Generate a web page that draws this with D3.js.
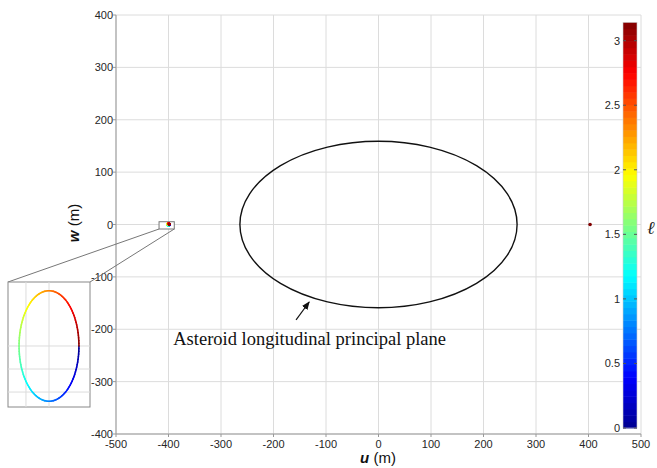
<!DOCTYPE html>
<html>
<head>
<meta charset="utf-8">
<script src="https://d3js.org/d3.v7.min.js"></script>
<style>
  body { margin: 0; background: #fff; overflow: hidden; }
  .tick-label { font-family: Arial, "Liberation Sans", sans-serif; font-size: 11px; fill: #262626; }
  .grid { stroke: #dcdcdc; stroke-width: 1; }
  .axis-title { font-family: Arial, "Liberation Sans", sans-serif; font-size: 15px; fill: #111; }
  .note { font-family: "Times New Roman", "Liberation Serif", serif; font-size: 18.5px; fill: #111; }
</style>
</head>
<body>
<div id="chart"></div>
<script>
// ---- data ----
var uTicks = [-500, -400, -300, -200, -100, 0, 100, 200, 300, 400, 500];
var wTicks = [-400, -300, -200, -100, 0, 100, 200, 300, 400];
var lTicks = [0, 0.5, 1, 1.5, 2, 2.5, 3];
var lMax = Math.PI;

// asteroid longitudinal principal plane (semi-axes, m)
var planeCenter = [0, 0];
var planeSemiAxes = [264, 159];

// small orbit near u = -400 and marker near u = 400
var orbitCenter = [-400, 0];
var orbitSemiAxes = [1.3, 2.4];
var rightPoint = [403, 0];

// zoom box in main axes [u0, u1, w0, w1]
var zoomBox = [-418, -389, -8.6, 5.3];

// inset axes domain and grid
var insetU = [-401.78, -398.22];
var insetW = [-2.65, 2.78];
var insetUTicks = [-401, -400];
var insetWTicks = [-2, -1, 0];

// jet colormap stops
var jetStops = [0, 0.125, 0.375, 0.625, 0.875, 1];
var jetColors = ["#00008f", "#0000ff", "#00ffff", "#ffff00", "#ff0000", "#800000"];
var colorSteps = 64;

// annotation
var noteText = "Asteroid longitudinal principal plane";
var notePos = [-391, -231];
var arrowFrom = [-157, -182];
var arrowTo = [-132, -148];

// ---- chart ----
var width = 657, height = 468;
var svg = d3.select("#chart").append("svg")
  .attr("width", width).attr("height", height);

var x = d3.scaleLinear().domain([-500, 500]).range([116, 641]);
var y = d3.scaleLinear().domain([-400, 400]).range([434, 15]);

var jet = d3.scaleLinear()
  .domain(jetStops.map(function(s) { return s * lMax; }))
  .range(jetColors)
  .clamp(true);

// grid
svg.append("g").selectAll("line").data(uTicks).enter().append("line")
  .attr("class", "grid")
  .attr("x1", function(d) { return x(d); }).attr("x2", function(d) { return x(d); })
  .attr("y1", y(400)).attr("y2", y(-400));
svg.append("g").selectAll("line").data(wTicks).enter().append("line")
  .attr("class", "grid")
  .attr("x1", x(-500)).attr("x2", x(500))
  .attr("y1", function(d) { return y(d); }).attr("y2", function(d) { return y(d); });

// frame
svg.append("line").attr("x1", x(-500)).attr("x2", x(-500)).attr("y1", y(400)).attr("y2", y(-400))
  .attr("stroke", "#999");
svg.append("line").attr("x1", x(-500)).attr("x2", x(500)).attr("y1", y(-400)).attr("y2", y(-400))
  .attr("stroke", "#999");

// tick labels
svg.append("g").selectAll("text").data(uTicks).enter().append("text")
  .attr("class", "tick-label")
  .attr("x", function(d) { return x(d); })
  .attr("y", 448)
  .attr("text-anchor", "middle")
  .text(function(d) { return d; });
svg.append("g").selectAll("text").data(wTicks).enter().append("text")
  .attr("class", "tick-label")
  .attr("x", 113)
  .attr("y", function(d) { return y(d) + 4; })
  .attr("text-anchor", "end")
  .text(function(d) { return d; });

// small tick marks
svg.append("g").selectAll("line").data(wTicks).enter().append("line")
  .attr("x1", x(-500) - 3).attr("x2", x(-500))
  .attr("y1", function(d) { return y(d); }).attr("y2", function(d) { return y(d); })
  .attr("stroke", "#999");
svg.append("g").selectAll("line").data(uTicks).enter().append("line")
  .attr("x1", function(d) { return x(d); }).attr("x2", function(d) { return x(d); })
  .attr("y1", y(-400)).attr("y2", y(-400) + 3)
  .attr("stroke", "#999");

// axis titles
var ut = svg.append("text").attr("class", "axis-title")
  .attr("x", 378).attr("y", 463).attr("text-anchor", "middle");
ut.append("tspan").attr("font-weight", "bold").attr("font-style", "italic").text("u");
ut.append("tspan").text(" (m)");

var wt = svg.append("text").attr("class", "axis-title")
  .attr("transform", "translate(79,223) rotate(-90)")
  .attr("text-anchor", "middle");
wt.append("tspan").attr("font-weight", "bold").attr("font-style", "italic").text("w");
wt.append("tspan").text(" (m)");

// principal plane ellipse
svg.append("ellipse")
  .attr("cx", x(planeCenter[0])).attr("cy", y(planeCenter[1]))
  .attr("rx", x(planeSemiAxes[0]) - x(0))
  .attr("ry", y(0) - y(planeSemiAxes[1]))
  .attr("fill", "none").attr("stroke", "#111").attr("stroke-width", 1.4);

// annotation arrow + text
svg.append("defs").append("marker")
  .attr("id", "arrowhead").attr("viewBox", "0 0 10 10")
  .attr("refX", 9).attr("refY", 5)
  .attr("markerWidth", 7).attr("markerHeight", 7)
  .attr("orient", "auto")
  .append("path").attr("d", "M0,1 L10,5 L0,9 Z").attr("fill", "#111");
svg.append("line")
  .attr("x1", x(arrowFrom[0])).attr("y1", y(arrowFrom[1]))
  .attr("x2", x(arrowTo[0])).attr("y2", y(arrowTo[1]))
  .attr("stroke", "#111").attr("stroke-width", 1.2)
  .attr("marker-end", "url(#arrowhead)");
svg.append("text").attr("class", "note")
  .attr("x", x(notePos[0])).attr("y", y(notePos[1]))
  .text(noteText);

// orbit samples (ell in [0, pi])
var lSamples = d3.range(0, colorSteps * 2).map(function(i) { return i * lMax / (colorSteps * 2); });

function orbitSegments(g, sx, sy, sw) {
  lSamples.forEach(function(l, i) {
    var l2 = i + 1 < lSamples.length ? lSamples[i + 1] : lMax;
    var p = function(v) {
      return [sx(orbitCenter[0] + orbitSemiAxes[0] * Math.cos(2 * v)),
              sy(orbitCenter[1] - orbitSemiAxes[1] * Math.sin(2 * v))];
    };
    var a = p(l), b = p(l2);
    g.append("line")
      .attr("x1", a[0]).attr("y1", a[1]).attr("x2", b[0]).attr("y2", b[1])
      .attr("stroke", jet(l)).attr("stroke-width", sw).attr("stroke-linecap", "round");
  });
}

// zoom box in main axes
var zx0 = x(zoomBox[0]), zx1 = x(zoomBox[1]), zy0 = y(zoomBox[3]), zy1 = y(zoomBox[2]);

// inset axes
var ix = d3.scaleLinear().domain(insetU).range([8, 90]);
var iy = d3.scaleLinear().domain(insetW).range([407, 282]);

// connector lines
svg.append("line").attr("x1", zx0).attr("y1", zy1).attr("x2", ix.range()[0]).attr("y2", iy.range()[1])
  .attr("stroke", "#777");
svg.append("line").attr("x1", zx1).attr("y1", zy1).attr("x2", ix.range()[1]).attr("y2", iy.range()[1])
  .attr("stroke", "#777");

svg.append("rect")
  .attr("x", zx0).attr("y", zy0).attr("width", zx1 - zx0).attr("height", zy1 - zy0)
  .attr("fill", "#fff").attr("stroke", "#777");

orbitSegments(svg.append("g"), x, y, 2.6);

svg.append("circle")
  .attr("cx", x(rightPoint[0])).attr("cy", y(rightPoint[1])).attr("r", 1.8)
  .attr("fill", jet(lMax));

var inset = svg.append("g");
inset.append("rect")
  .attr("x", 8).attr("y", 282).attr("width", 82).attr("height", 125)
  .attr("fill", "#fff").attr("stroke", "#888");
inset.selectAll(".ig").data(insetUTicks).enter().append("line")
  .attr("class", "grid")
  .attr("x1", function(d) { return ix(d); }).attr("x2", function(d) { return ix(d); })
  .attr("y1", 282).attr("y2", 407);
inset.selectAll(".ih").data(insetWTicks).enter().append("line")
  .attr("class", "grid")
  .attr("x1", 8).attr("x2", 90)
  .attr("y1", function(d) { return iy(d); }).attr("y2", function(d) { return iy(d); });
orbitSegments(inset.append("g"), ix, iy, 1.6);

// colorbar
var cy = d3.scaleLinear().domain([0, lMax]).range([428, 22.4]);
var cbX = 623, cbW = 14;
var bands = d3.range(colorSteps).map(function(i) { return i * lMax / colorSteps; });
svg.append("g").selectAll("rect").data(bands).enter().append("rect")
  .attr("x", cbX).attr("width", cbW)
  .attr("y", function(d) { return cy(d + lMax / colorSteps); })
  .attr("height", function(d) { return cy(d) - cy(d + lMax / colorSteps) + 0.5; })
  .attr("fill", function(d) { return jet(d + lMax / colorSteps / 2); });
svg.append("rect").attr("x", cbX).attr("y", cy(lMax)).attr("width", cbW).attr("height", cy(0) - cy(lMax))
  .attr("fill", "none").attr("stroke", "#ccc").attr("stroke-width", 0.6);
svg.append("g").selectAll("text").data(lTicks).enter().append("text")
  .attr("class", "tick-label")
  .attr("x", 620).attr("y", function(d) { return cy(d) + 4; })
  .attr("text-anchor", "end")
  .text(function(d) { return d; });
var ct = svg.append("g");
ct.selectAll(".l").data(lTicks).enter().append("line")
  .attr("x1", cbX).attr("x2", cbX + 3)
  .attr("y1", function(d) { return cy(d); }).attr("y2", function(d) { return cy(d); })
  .attr("stroke", "#555");
ct.selectAll(".r").data(lTicks).enter().append("line")
  .attr("x1", cbX + cbW - 3).attr("x2", cbX + cbW)
  .attr("y1", function(d) { return cy(d); }).attr("y2", function(d) { return cy(d); })
  .attr("stroke", "#555");
svg.append("text")
  .attr("x", 647).attr("y", 234)
  .attr("font-family", "'Liberation Serif', serif").attr("font-style", "italic")
  .attr("font-size", 18).attr("fill", "#222")
  .text("ℓ");
</script>
</body>
</html>
